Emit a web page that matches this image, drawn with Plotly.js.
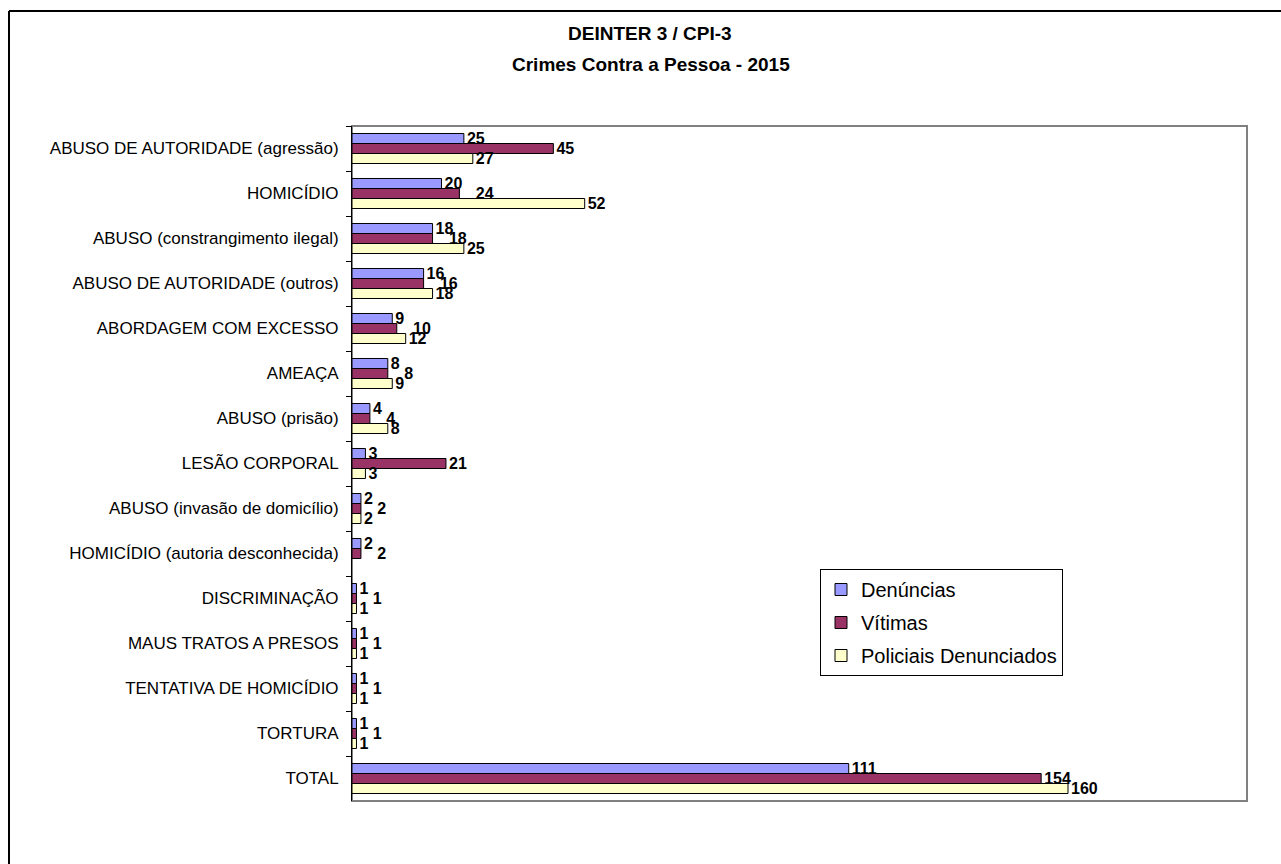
<!DOCTYPE html>
<html>
<head>
<meta charset="utf-8">
<script src="https://cdn.plot.ly/plotly-3.0.1.min.js"></script>
<style>html,body{margin:0;padding:0;background:#fff;}#chart{width:1281px;height:864px;}</style>
</head>
<body>
<div id="chart"></div>
<script>
const categories = [
  "ABUSO DE AUTORIDADE (agressão)",
  "HOMICÍDIO",
  "ABUSO (constrangimento ilegal)",
  "ABUSO DE AUTORIDADE (outros)",
  "ABORDAGEM COM EXCESSO",
  "AMEAÇA",
  "ABUSO (prisão)",
  "LESÃO CORPORAL",
  "ABUSO (invasão de domicílio)",
  "HOMICÍDIO (autoria desconhecida)",
  "DISCRIMINAÇÃO",
  "MAUS TRATOS A PRESOS",
  "TENTATIVA DE HOMICÍDIO",
  "TORTURA",
  "TOTAL"
];
const denuncias = [25, 20, 18, 16, 9, 8, 4, 3, 2, 2, 1, 1, 1, 1, 111];
const vitimas   = [45, 24, 18, 16, 10, 8, 4, 21, 2, 2, 1, 1, 1, 1, 154];
const policiais = [27, 52, 25, 18, 12, 9, 8, 3, 2, null, 1, 1, 1, 1, 160];
const seriesNames = ["Denúncias", "Vítimas", "Policiais Denunciados"];
const seriesColors = ["#9999FF", "#993366", "#FFFFCC"];

const FONT = '"Liberation Sans", Arial, sans-serif';
const allSeries = [denuncias, vitimas, policiais];

// Middle-series labels are nudged right when they would collide with neighbours (as in the original)
const PAD = '\u00a0\u00a0\u00a0';
function labelText(vals, i) {
  return vals.map((v, k) => {
    if (v === null) return '';
    if (i === 1) {
      const d = denuncias[k], p = policiais[k] === null ? -99 : policiais[k];
      if (Math.abs(v - d) < 5 || Math.abs(v - p) < 5) return PAD + v;
    }
    return String(v);
  });
}

const traces = allSeries.map((vals, i) => ({
  type: 'bar',
  orientation: 'h',
  name: seriesNames[i],
  legendgroup: 'g' + i,
  y: categories,
  x: vals,
  text: labelText(vals, i),
  textposition: 'outside',
  constraintext: 'none',
  cliponaxis: false,
  textfont: {family: FONT, size: 16, color: '#000', weight: 'bold'},
  marker: {color: seriesColors[i], line: {color: '#000', width: 1}},
  hoverinfo: 'x+name'
}));

const L = 352, R = 1247, T = 126, B = 801;
const pw = R - L, ph = B - T;
const px = x => (x - L) / pw;
const py = y => (B - y) / ph;

const layout = {
  width: 1281, height: 864,
  margin: {l: L, r: 1281 - R, t: T, b: 864 - B},
  paper_bgcolor: '#fff', plot_bgcolor: '#fff',
  font: {family: FONT, size: 17, color: '#000'},
  barmode: 'group',
  bargap: 0.333,
  bargroupgap: 0,
  showlegend: true,
  legend: {
    x: px(820), y: py(569), xanchor: 'left', yanchor: 'top',
    bordercolor: '#000', borderwidth: 1, bgcolor: '#fff',
    font: {family: FONT, size: 20, color: '#000'},
    traceorder: 'grouped', tracegroupgap: 4,
    itemwidth: 30
  },
  xaxis: {
    range: [0, 200], showticklabels: false, ticks: '', showgrid: false,
    zeroline: false, showline: false, fixedrange: true
  },
  yaxis: {
    type: 'category', autorange: 'reversed',
    showline: true, linecolor: '#000', linewidth: 1,
    ticks: 'outside', tickson: 'boundaries', ticklen: 5, tickcolor: '#000',
    ticklabelstandoff: 9,
    tickfont: {family: FONT, size: 17, color: '#000'},
    showgrid: false, zeroline: false, fixedrange: true
  },
  shapes: [
    {type: 'rect', xref: 'paper', yref: 'paper', x0: 0, x1: 1, y0: 0, y1: 1,
     line: {color: '#808080', width: 2}, layer: 'below'},
    {type: 'line', xref: 'paper', yref: 'paper', x0: px(9), x1: px(9), y0: py(880), y1: py(11),
     line: {color: '#000', width: 2}},
    {type: 'line', xref: 'paper', yref: 'paper', x0: px(9), x1: px(1300), y0: py(11), y1: py(11),
     line: {color: '#000', width: 2}}
  ],
  annotations: [
    {text: '<b>DEINTER 3 / CPI-3</b>', xref: 'paper', yref: 'paper', x: px(650), y: py(33),
     xanchor: 'center', yanchor: 'middle', showarrow: false,
     font: {family: FONT, size: 19, color: '#000'}},
    {text: '<b>Crimes Contra a Pessoa - 2015</b>', xref: 'paper', yref: 'paper', x: px(651), y: py(64),
     xanchor: 'center', yanchor: 'middle', showarrow: false,
     font: {family: FONT, size: 19, color: '#000'}}
  ]
};

Plotly.newPlot('chart', traces, layout, {displayModeBar: false, staticPlot: true});
</script>
</body>
</html>
